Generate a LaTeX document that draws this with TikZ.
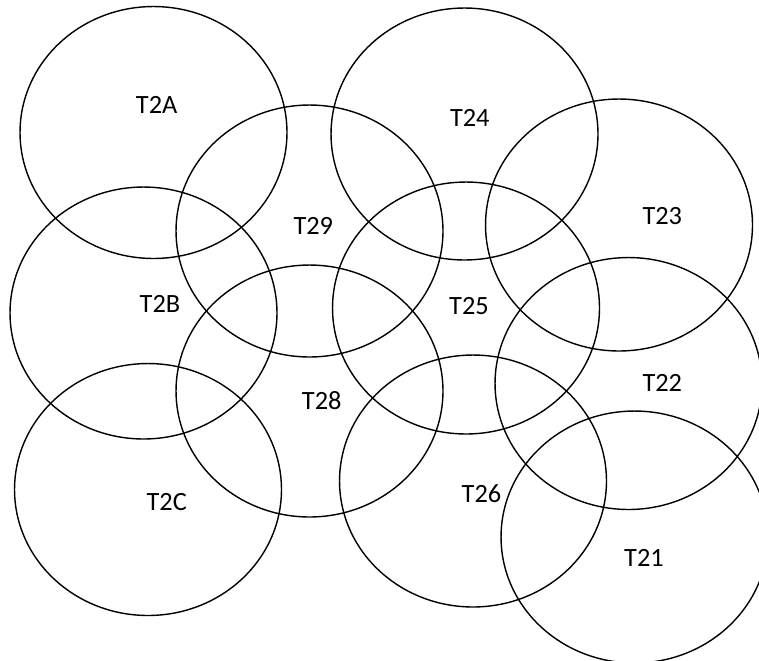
\documentclass[tikz,border=0pt]{standalone}
\usepackage{fontspec}
\setmainfont{Carlito}
\usetikzlibrary{shapes.geometric}

\begin{document}
\begin{tikzpicture}[x=0.02cm, y=-0.02cm,
                    cell/.style={ellipse, draw, line width=0.8pt, inner sep=0pt,
                                 minimum width=5.34cm, minimum height=5.04cm},
                    tag/.style={font=\fontsize{15}{17}\selectfont, inner sep=0pt}]
        \useasboundingbox (0,0) rectangle (759,660);
        % cells
        \node[cell] (c2A) at (153.5,132.5) {};
        \node[cell] (c24) at (464.5,134) {};
        \node[cell] (c29) at (309.5,231) {};
        \node[cell] (c23) at (619,225) {};
        \node[cell] (c2B) at (143.5,313) {};
        \node[cell] (c25) at (466,308) {};
        \node[cell] (c28) at (309.5,391) {};
        \node[cell] (c22) at (628.5,383.5) {};
        \node[cell] (c2C) at (148,489.5) {};
        \node[cell] (c26) at (473,481) {};
        \node[cell] (c21) at (634.5,537) {};
        % names
        \node[tag] (t2A) at (156.7,105.3) {T2A};
        \node[tag] (t24) at (469.8,117.5) {T24};
        \node[tag] (t29) at (313.3,225.8) {T29};
        \node[tag] (t23) at (662.3,215.8) {T23};
        \node[tag] (t2B) at (160,304) {T2B};
        \node[tag] (t25) at (469,305.8) {T25};
        \node[tag] (t28) at (321.7,400.8) {T28};
        \node[tag] (t22) at (662.3,382.5) {T22};
        \node[tag] (t2C) at (166.7,502.5) {T2C};
        \node[tag] (t26) at (481.5,494) {T26};
        \node[tag] (t21) at (644,557.5) {T21};
\end{tikzpicture}
\end{document}
